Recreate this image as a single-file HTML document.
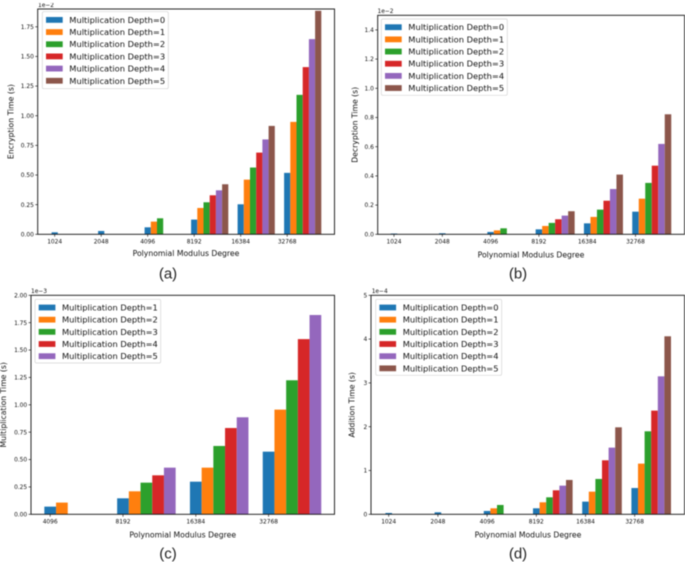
<!DOCTYPE html>
<html>
<head>
<meta charset="utf-8">
<style>
html,body{margin:0;padding:0;background:#fff;width:685px;height:562px;overflow:hidden}
svg{display:block;filter:blur(0.5px)}
text{font-family:"DejaVu Sans","Liberation Sans",sans-serif;fill:#111}
.cap{font-family:"Liberation Sans",sans-serif;font-size:15px;fill:#222}
</style>
</head>
<body>
<svg id="figure" width="685" height="562" viewBox="0 0 685 562" xmlns="http://www.w3.org/2000/svg"></svg>
<script>
const colors = ['#1f77b4','#ff7f0e','#2ca02c','#d62728','#9467bd','#8c564b'];

const categoriesFull = ['1024','2048','4096','8192','16384','32768'];
const categoriesMul = ['4096','8192','16384','32768'];

const legendFull = ['Multiplication Depth=0','Multiplication Depth=1','Multiplication Depth=2','Multiplication Depth=3','Multiplication Depth=4','Multiplication Depth=5'];
const legendMul = ['Multiplication Depth=1','Multiplication Depth=2','Multiplication Depth=3','Multiplication Depth=4','Multiplication Depth=5'];

const encTicks = ['0.00','0.25','0.50','0.75','1.00','1.25','1.50','1.75'];
const decTicks = ['0.0','0.2','0.4','0.6','0.8','1.0','1.2','1.4'];
const mulTicks = ['0.00','0.25','0.50','0.75','1.00','1.25','1.50','1.75','2.00'];
const addTicks = ['0','1','2','3','4','5'];

const encD0 = [0.017,0.028,0.059,0.124,0.253,0.518];
const encD1 = [null,null,0.107,0.222,0.461,0.948];
const encD2 = [null,null,0.135,0.270,0.563,1.176];
const encD3 = [null,null,null,0.329,0.689,1.410];
const encD4 = [null,null,null,0.371,0.800,1.646];
const encD5 = [null,null,null,0.422,0.914,1.885];

const decD0 = [0.005,0.007,0.016,0.034,0.075,0.155];
const decD1 = [null,null,0.027,0.057,0.119,0.244];
const decD2 = [null,null,0.041,0.078,0.169,0.352];
const decD3 = [null,null,null,0.103,0.230,0.470];
const decD4 = [null,null,null,0.128,0.310,0.619];
const decD5 = [null,null,null,0.158,0.409,0.822];

const mulD1 = [0.070,0.146,0.298,0.572];
const mulD2 = [0.107,0.210,0.426,0.956];
const mulD3 = [null,0.289,0.624,1.224];
const mulD4 = [null,0.356,0.788,1.600];
const mulD5 = [null,0.426,0.886,1.820];

const addD0 = [0.030,0.046,0.076,0.137,0.289,0.600];
const addD1 = [null,null,0.137,0.274,0.517,1.157];
const addD2 = [null,null,0.213,0.388,0.807,1.895];
const addD3 = [null,null,null,0.548,1.233,2.367];
const addD4 = [null,null,null,0.654,1.522,3.150];
const addD5 = [null,null,null,0.784,1.986,4.064];

const panels = [
  {id:'a',cats:categoriesFull,series:[encD0,encD1,encD2,encD3,encD4,encD5],names:legendFull,ticks:encTicks,ylabel:'Encryption Time (s)',exp:'1e\u22122',
   box:[37.7,334.5,9,234.3],ymax:1.9,x0:54.7,step:46.5,bw:6.2,leg:[42.3,11.7,126,77],yl:11,xlc:186,xly:253.5,capx:168,capy:273.5,expx:38,expy:5},
  {id:'b',cats:categoriesFull,series:[decD0,decD1,decD2,decD3,decD4,decD5],names:legendFull,ticks:decTicks,ylabel:'Decryption Time (s)',exp:'1e\u22122',
   box:[377.7,684.6,15.3,234.3],ymax:1.5,x0:394,step:48.3,bw:6.5,leg:[381.3,19,126,76.3],yl:355,xlc:531,xly:254.7,capx:518,capy:273.5,expx:377.5,expy:11},
  {id:'c',cats:categoriesMul,series:[mulD1,mulD2,mulD3,mulD4,mulD5],names:legendMul,ticks:mulTicks,ylabel:'Multiplication Time (s)',exp:'1e\u22123',
   box:[31,334.5,295.3,514.3],ymax:2,x0:50.2,step:72.8,bw:11.7,leg:[35,299.3,125.7,63.7],yl:3.5,xlc:182.7,xly:535,capx:168,capy:553.5,expx:31,expy:291},
  {id:'d',cats:categoriesFull,series:[addD0,addD1,addD2,addD3,addD4,addD5],names:legendFull,ticks:addTicks,ylabel:'Addition Time (s)',exp:'1e\u22124',
   box:[371,684.6,295.3,514.3],ymax:5,x0:388.7,step:49.2,bw:6.6,leg:[375.7,299.3,126,76],yl:352,xlc:528,xly:535,capx:518,capy:553.5,expx:371.7,expy:291}
];

const NS = 'http://www.w3.org/2000/svg';
const fig = document.getElementById('figure');

function mk(parent, tag, attrs, txt){
  const el = document.createElementNS(NS, tag);
  for (const k in attrs) el.setAttribute(k, attrs[k]);
  if (txt !== undefined) el.textContent = txt;
  parent.appendChild(el);
  return el;
}

panels.forEach(function(p){
  const L=p.box[0], R=p.box[1], T=p.box[2], B=p.box[3];
  const yScale = function(v){ return B - (v/p.ymax)*(B-T); };
  const xScale = function(c,s){ return p.x0 + p.step*c + p.bw*s - p.bw/2; };

  const g = mk(fig,'g',{});
  
  

  p.series.forEach(function(vals,s){
    vals.forEach(function(v,c){
      if (v === null) return;
      const bar = mk(g,'rect',{x:xScale(c,s),y:yScale(v),width:p.bw,height:B-yScale(v),fill:colors[s]});
      
      
    });
  });

  const frame = mk(g,'rect',{x:L,y:T,width:R-L,height:B-T,fill:'none',stroke:'#111','stroke-width':0.9});
  
  

  p.ticks.forEach(function(t){
    const y = yScale(parseFloat(t));
    mk(g,'line',{x1:L-2.4,x2:L,y1:y,y2:y,stroke:'#222','stroke-width':0.7});
    const lab = mk(g,'text',{x:L-3.8,y:y+2.1,'font-size':5.9,'text-anchor':'end'},t);
    
    
  });

  p.cats.forEach(function(cat,c){
    const x = xScale(c,0)+p.bw/2;
    mk(g,'line',{x1:x,x2:x,y1:B,y2:B+2.4,stroke:'#222','stroke-width':0.7});
    const lab = mk(g,'text',{x:x,y:B+9.4,'font-size':5.9,'text-anchor':'middle'},cat);
    
    
  });

  const ex = mk(g,'text',{x:p.expx,y:p.expy+2,'font-size':5.9},p.exp);
  
  

  const xt = mk(g,'text',{x:p.xlc,y:p.xly+2.7,'font-size':7.7,'text-anchor':'middle'},'Polynomial Modulus Degree');
  
  

  const yc = (T+B)/2;
  const yt = mk(g,'text',{x:p.yl,y:yc,'font-size':7.7,'text-anchor':'middle','dominant-baseline':'central',transform:'rotate(-90 '+p.yl+' '+yc+')'},p.ylabel);
  
  

  const lg = mk(g,'g',{});
  
  
  mk(lg,'rect',{x:p.leg[0],y:p.leg[1],width:p.leg[2],height:p.leg[3],rx:1.5,fill:'#fff','fill-opacity':0.85,stroke:'#d4d4d4','stroke-width':0.7});
  p.names.forEach(function(n,i){
    const cy = p.leg[1] + 8.2 + i*12.17;
    const entry = mk(lg,'g',{});
    
    
    mk(entry,'rect',{x:p.leg[0]+3.7,y:cy-2.9,width:16.7,height:5.8,fill:colors[i]});
    mk(entry,'text',{x:p.leg[0]+27,y:cy+3,'font-size':8.3},n);
  });

  const cap = mk(g,'text',{x:p.capx,y:p.capy+4.8,'class':'cap','text-anchor':'middle'},'('+p.id+')');
  
  
});
</script>
</body>
</html>
